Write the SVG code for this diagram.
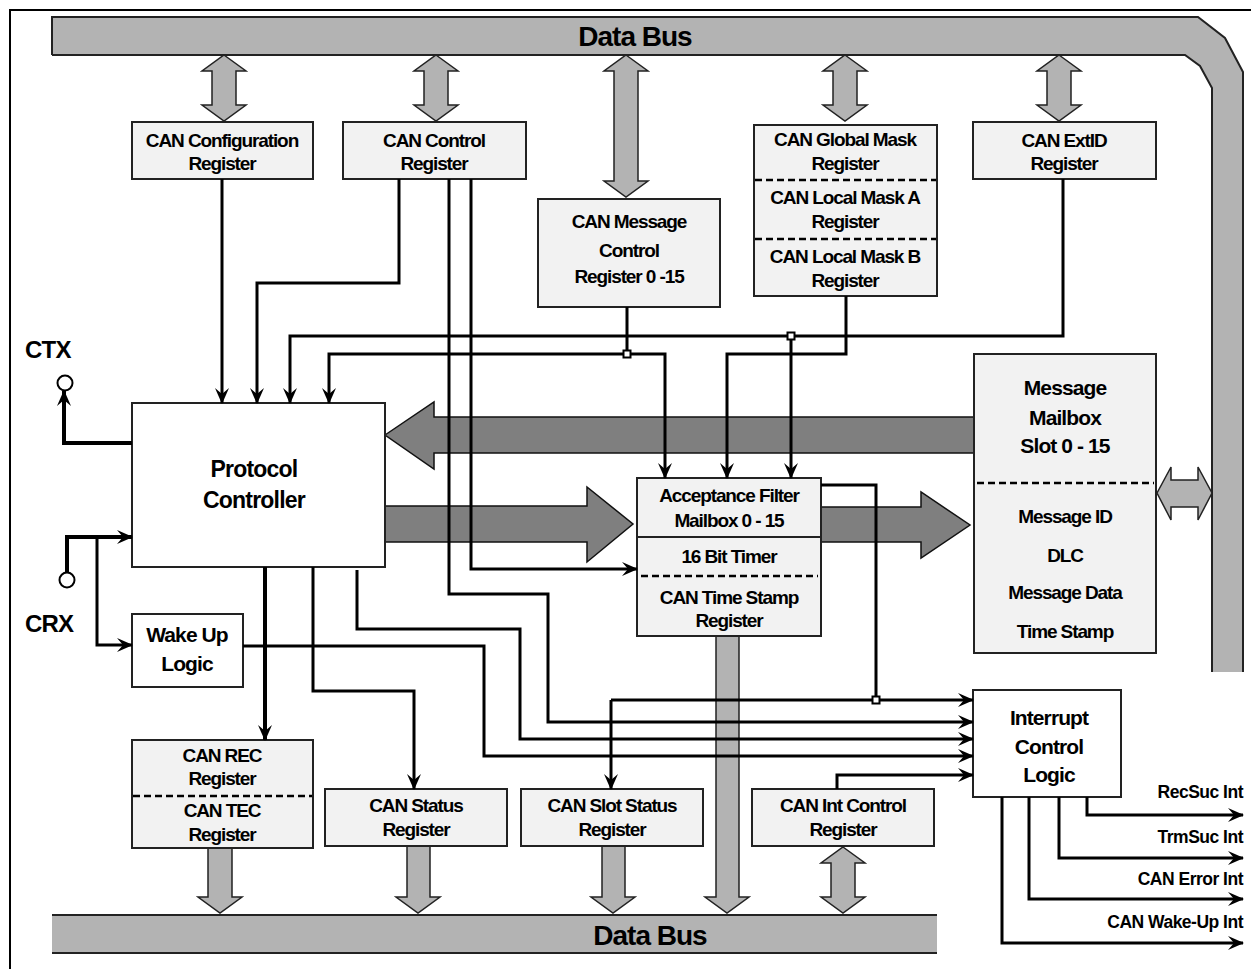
<svg xmlns="http://www.w3.org/2000/svg" width="1251" height="969" viewBox="0 0 1251 969">
<style>
text{font-family:"Liberation Sans",Arial,sans-serif;font-weight:bold;fill:#000;text-anchor:middle}
.r{font-size:19px;letter-spacing:-1.1px}
.m{font-size:21px;letter-spacing:-0.9px}
.big{font-size:28px;letter-spacing:-1px}
.lbl{font-size:17.5px;text-anchor:end;letter-spacing:-0.5px}
.box{fill:#f2f2f2;stroke:#222;stroke-width:2}
.wbox{fill:#fff;stroke:#222;stroke-width:2}
.dash{stroke:#000;stroke-width:2.5;stroke-dasharray:7 4;fill:none}
.bus{fill:#b3b3b3;stroke:none}
.busE{fill:none;stroke:#222;stroke-width:2}
.lg{fill:#b3b3b3;stroke:#222;stroke-width:1.5}
.dk{fill:#7f7f7f;stroke:#111;stroke-width:1.5}
.c{fill:none;stroke:#000;stroke-width:3}
.t{stroke-width:4}
.a{marker-end:url(#ah)}
.j{fill:#fff;stroke:#000;stroke-width:2}
</style>
<defs>
<marker id="ah" markerUnits="userSpaceOnUse" markerWidth="16" markerHeight="14" viewBox="0 0 16 14" refX="15" refY="7" orient="auto">
<path d="M0,0 L16,7 L0,14 L6,7 Z" fill="#000"/>
</marker>
</defs>
<rect x="10" y="10" width="1262" height="980" fill="#fff" stroke="#000" stroke-width="2"/>

<g id="buses">
<path class="bus" d="M52,17 L1198,17 L1225,38 L1243,72 L1243,672 L1212,672 L1212,88 L1200,66 L1185,55 L52,55 Z"/>
<path class="busE" d="M52,55 V17 L1198,17 L1225,38 L1243,72 L1243,672 M1212,672 L1212,88 L1200,66 L1185,55 L52,55"/>
<text class="big" x="635" y="46">Data Bus</text>
<rect class="bus" x="52" y="915" width="885" height="38"/>
<path class="busE" d="M52,915 H937 M52,953 H937"/>
<text class="big" x="650" y="945">Data Bus</text>
<path class="lg" d="M224,55 L246,71 L236,71 L236,105 L246,105 L224,121 L202,105 L212,105 L212,71 L202,71 Z"/>
<path class="lg" d="M436,55 L458,71 L448,71 L448,105 L458,105 L436,121 L414,105 L424,105 L424,71 L414,71 Z"/>
<path class="lg" d="M626,55 L648,71 L638,71 L638,181 L648,181 L626,197 L604,181 L614,181 L614,71 L604,71 Z"/>
<path class="lg" d="M845,55 L867,71 L857,71 L857,105 L867,105 L845,121 L823,105 L833,105 L833,71 L823,71 Z"/>
<path class="lg" d="M1059,55 L1081,71 L1071,71 L1071,105 L1081,105 L1059,121 L1037,105 L1047,105 L1047,71 L1037,71 Z"/>
<path class="lg" d="M208,848 L232,848 L232,897 L242,897 L220,913 L198,897 L208,897 Z"/>
<path class="lg" d="M407,846 L430,846 L430,897 L440,897 L418,913 L396,897 L407,897 Z"/>
<path class="lg" d="M602,846 L625,846 L625,897 L635,897 L613,913 L591,897 L602,897 Z"/>
<path class="lg" d="M716,636 L739,636 L739,897 L749,897 L727,913 L705,897 L716,897 Z"/>
<path class="lg" d="M843,847 L865,863 L855,863 L855,897 L865,897 L843,913 L821,897 L831,897 L831,863 L821,863 Z"/>
<path class="lg" d="M1157,493 L1171,467 L1171,480 L1198,480 L1198,467 L1212,493 L1198,520 L1198,507 L1171,507 L1171,520 Z"/>
<path class="dk" d="M385,435 L434,402 L434,417 L974,417 L974,453 L434,453 L434,469 Z"/>
<path class="dk" d="M385,506 L587,506 L587,487 L633,524 L587,562 L587,542 L385,542 Z"/>
<path class="dk" d="M821,507 L921,507 L921,492 L970,525 L921,558 L921,542 L821,542 Z"/>
</g>

<g id="cfg"><rect class="box" x="132" y="122" width="181" height="57"/>
<text class="r" x="222" y="147">CAN Configuration</text><text class="r" x="222" y="170">Register</text></g>
<g id="ctrl"><rect class="box" x="343" y="122" width="183" height="57"/>
<text class="r" x="434" y="147">CAN Control</text><text class="r" x="434" y="170">Register</text></g>
<g id="msgctrl"><rect class="box" x="538" y="199" width="182" height="108"/>
<text class="r" x="629" y="228">CAN Message</text><text class="r" x="629" y="257">Control</text><text class="r" x="629" y="283">Register 0 -15</text></g>
<g id="mask"><rect class="box" x="754" y="125" width="183" height="171"/>
<path class="dash" d="M755,180 H936 M755,239 H936"/>
<text class="r" x="845" y="146">CAN Global Mask</text><text class="r" x="845" y="170">Register</text>
<text class="r" x="845" y="204">CAN Local Mask A</text><text class="r" x="845" y="228">Register</text>
<text class="r" x="845" y="263">CAN Local Mask B</text><text class="r" x="845" y="287">Register</text></g>
<g id="extid"><rect class="box" x="973" y="122" width="183" height="57"/>
<text class="r" x="1064" y="147">CAN ExtID</text><text class="r" x="1064" y="170">Register</text></g>

<g id="ctx"><circle cx="65" cy="383" r="7.5" fill="#fff" stroke="#000" stroke-width="2"/>
<text x="25" y="358" style="font-size:24px;text-anchor:start;letter-spacing:-0.8px">CTX</text></g>
<g id="crx"><circle cx="67" cy="580" r="7.5" fill="#fff" stroke="#000" stroke-width="2"/>
<text x="25" y="632" style="font-size:24px;text-anchor:start;letter-spacing:-0.8px">CRX</text></g>

<g id="pc"><rect class="wbox" x="132" y="403" width="253" height="164"/>
<text x="254" y="477" style="font-size:23px;letter-spacing:-0.8px">Protocol</text>
<text x="254" y="508" style="font-size:23px;letter-spacing:-0.8px">Controller</text></g>
<g id="wake"><rect class="wbox" x="132" y="614" width="111" height="73"/>
<text class="m" x="187" y="642">Wake Up</text><text class="m" x="187" y="671">Logic</text></g>

<g id="af"><rect class="box" x="637" y="478" width="184" height="158"/>
<path d="M637,537 H821" stroke="#222" stroke-width="2"/>
<path class="dash" d="M641,576 H818"/>
<text class="r" x="729" y="502">Acceptance Filter</text><text class="r" x="729" y="527">Mailbox 0 - 15</text>
<text class="r" x="729" y="563">16 Bit Timer</text>
<text class="r" x="729" y="604">CAN Time Stamp</text><text class="r" x="729" y="627">Register</text></g>

<g id="mailbox"><rect class="box" x="974" y="354" width="182" height="299"/>
<path class="dash" d="M977,483 H1154"/>
<text class="m" x="1065" y="395">Message</text><text class="m" x="1065" y="425">Mailbox</text><text class="m" x="1065" y="453">Slot 0 - 15</text>
<text class="r" x="1065" y="523">Message ID</text><text class="r" x="1065" y="562">DLC</text>
<text class="r" x="1065" y="599">Message Data</text><text class="r" x="1065" y="638">Time Stamp</text></g>

<g id="rec"><rect class="box" x="132" y="740" width="181" height="108"/>
<path class="dash" d="M133,796 H312"/>
<text class="r" x="222" y="762">CAN REC</text><text class="r" x="222" y="785">Register</text>
<text class="r" x="222" y="817">CAN TEC</text><text class="r" x="222" y="841">Register</text></g>
<g id="status"><rect class="box" x="325" y="789" width="182" height="57"/>
<text class="r" x="416" y="812">CAN Status</text><text class="r" x="416" y="836">Register</text></g>
<g id="slot"><rect class="box" x="521" y="789" width="182" height="57"/>
<text class="r" x="612" y="812">CAN Slot Status</text><text class="r" x="612" y="836">Register</text></g>
<g id="intctrl"><rect class="box" x="752" y="789" width="182" height="57"/>
<text class="r" x="843" y="812">CAN Int Control</text><text class="r" x="843" y="836">Register</text></g>
<g id="icl"><rect class="wbox" x="973" y="690" width="148" height="107"/>
<text class="m" x="1049" y="725">Interrupt</text><text class="m" x="1049" y="754">Control</text><text class="m" x="1049" y="782">Logic</text></g>

<g id="outputs">
<text class="lbl" x="1243" y="798">RecSuc Int</text>
<text class="lbl" x="1243" y="843">TrmSuc Int</text>
<text class="lbl" x="1243" y="885">CAN Error Int</text>
<text class="lbl" x="1243" y="928">CAN Wake-Up Int</text>
</g>

<g id="connectors">
<path class="c a" d="M222,179 V403"/>
<path class="c a" d="M399,179 V283 H257 V403"/>
<path class="c a" d="M471,179 V569 H637"/>
<path class="c a" d="M449,179 V594 H548 V722 H973"/>
<path class="c a" d="M1063,179 V336 H290 V403"/>
<path class="c a" d="M791,336 V478"/>
<path class="c a" d="M627,307 V354 H329 V403"/>
<path class="c a" d="M627,354 H665 V478"/>
<path class="c a" d="M846,296 V354 H727 V478"/>
<path class="c t a" d="M132,443 H64 V391"/>
<path class="c t a" d="M67,573 V537 H132"/>
<path class="c a" d="M97,537 V645 H132"/>
<path class="c a" d="M243,646 H484 V756 H973"/>
<path class="c t a" d="M265,567 V740"/>
<path class="c a" d="M313,567 V691 H414 V789"/>
<path class="c a" d="M357,570 V629 H520 V739 H973"/>
<path class="c" d="M821,485 H876 V700"/>
<path class="c a" d="M611,700 H973"/>
<path class="c a" d="M611,700 V789"/>
<path class="c a" d="M837,789 V775 H973"/>
<path class="c a" d="M1087,797 V815 H1243"/>
<path class="c a" d="M1059,797 V858 H1243"/>
<path class="c a" d="M1029,797 V899 H1243"/>
<path class="c a" d="M1002,797 V943 H1243"/>
<rect class="j" x="623.5" y="350.5" width="7" height="7"/>
<rect class="j" x="787.5" y="332.5" width="7" height="7"/>
<rect class="j" x="872.5" y="696.5" width="7" height="7"/>
</g>
</svg>
